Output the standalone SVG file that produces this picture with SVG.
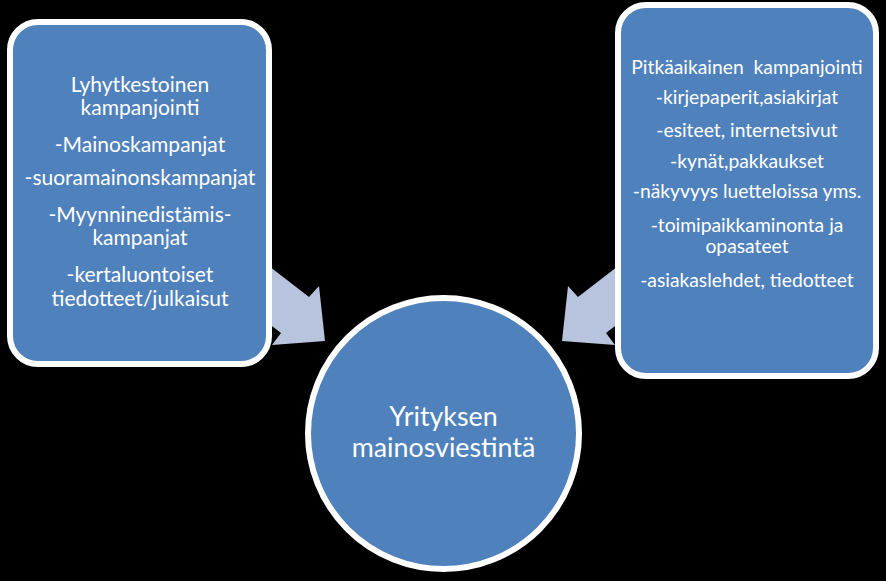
<svg xmlns="http://www.w3.org/2000/svg" width="886" height="581" viewBox="0 0 886 581">
<style>
.node{fill:#4F81BD;stroke:#FFFFFF;stroke-width:6}
.arrow{fill:#B8C4DE;stroke:none}
text{font-family:Lato,"Open Sans","Liberation Sans",sans-serif;fill:#FFFFFF;text-anchor:middle}
.l{font-size:21px}
.r{font-size:19.3px}
.c{font-size:26.8px}
</style>
<rect x="0" y="0" width="886" height="581" fill="#000000"/>
<g id="connectors">
<polygon class="arrow" points="243,246 309,297 319,286 325,341 272,345 281,333 215,282"/>
<polygon class="arrow" points="644,246 578,297 568,286 562,341 615,345 606,333 672,282"/>
</g>
<g id="node-short">
<rect class="node" x="10" y="22" width="259" height="342" rx="28"/>
<text class="l" x="140" y="92">Lyhytkestoinen</text>
<text class="l" x="140" y="115">kampanjointi</text>
<text class="l" x="140" y="152">-Mainoskampanjat</text>
<text class="l" x="140" y="185">-suoramainonskampanjat</text>
<text class="l" x="140" y="222">-Myynninedistämis-</text>
<text class="l" x="140" y="245">kampanjat</text>
<text class="l" x="140" y="282">-kertaluontoiset</text>
<text class="l" x="140" y="306">tiedotteet/julkaisut</text>
</g>
<g id="node-long">
<rect class="node" x="618" y="5" width="258" height="371" rx="28"/>
<text class="r" x="747" y="74" xml:space="preserve">Pitkäaikainen  kampanjointi</text>
<text class="r" x="747" y="104">-kirjepaperit,asiakirjat</text>
<text class="r" x="747" y="137">-esiteet, internetsivut</text>
<text class="r" x="747" y="168">-kynät,pakkaukset</text>
<text class="r" x="747" y="198">-näkyvyys luetteloissa yms.</text>
<text class="r" x="747" y="232">-toimipaikkaminonta ja</text>
<text class="r" x="747" y="253">opasateet</text>
<text class="r" x="747" y="287">-asiakaslehdet, tiedotteet</text>
</g>
<g id="node-center">
<circle class="node" cx="443.5" cy="433.5" r="135.5"/>
<text class="c" x="443.5" y="426">Yrityksen</text>
<text class="c" x="443.5" y="457">mainosviestintä</text>
</g>
</svg>
